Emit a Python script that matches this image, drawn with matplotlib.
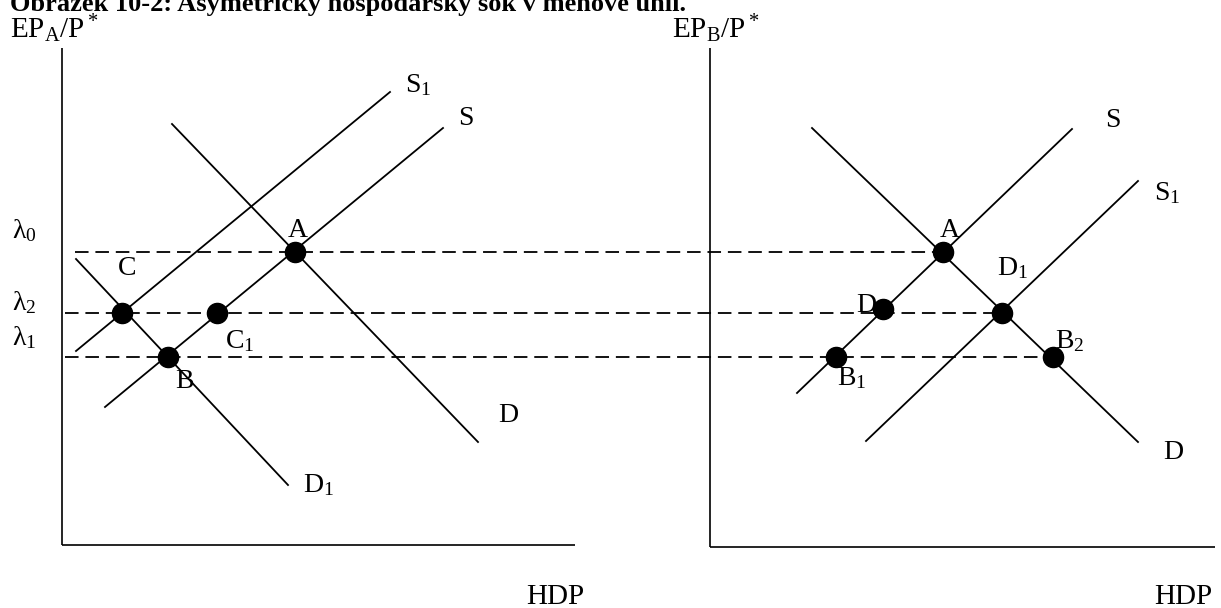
import matplotlib
matplotlib.use("Agg")
import matplotlib.pyplot as plt

plt.rcParams['font.family'] = ['Liberation Serif', 'DejaVu Serif']
plt.rcParams['mathtext.fontset'] = 'custom'
plt.rcParams['mathtext.rm'] = 'Liberation Serif'
plt.rcParams['mathtext.it'] = 'Liberation Serif:italic'

W, H = 1221, 608

# Diagram geometry (pixel space of the original figure)
axes_lines = [  # (x0, y0, x1, y1)
    (62, 48, 62, 545), (62, 545, 575, 545),
    (710, 48, 710, 547), (710, 547, 1215, 547),
]
curve_names = ["S1_A", "S_A", "D_A", "D1_A", "S_B", "D_B", "S1_B"]
curve_x0 = [76, 105, 172, 76, 797, 812, 866]
curve_y0 = [351, 407, 124, 259, 393, 128, 441]
curve_x1 = [390, 443, 478, 288, 1072, 1138, 1138]
curve_y1 = [92, 128, 442, 485, 129, 442, 181]

dash_levels = [252, 313, 357]          # lambda0, lambda2, lambda1
dash_x0 = [75, 65, 65]
dash_x1 = [943, 1002, 1053]

point_x = [295, 122, 217, 168, 943, 883, 1002, 836, 1053]
point_y = [252, 313, 313, 357, 252, 309, 313, 357, 357]

label_text = ["S$_1$", "S", "D", "D$_1$", "A", "C", "C$_1$", "B",
              "S", "S$_1$", "D", "A", "D$_1$", "D", "B$_2$", "B$_1$",
              "λ$_0$", "λ$_2$", "λ$_1$"]
label_x = [405, 458, 498, 303, 288, 118, 225, 175,
           1105, 1154, 1163, 940, 997, 856, 1055, 837,
           12, 12, 12]
label_y = [92, 125, 422, 492, 237, 275, 348, 388,
           127, 200, 459, 237, 275, 312, 348, 385,
           238, 310, 345]

fig = plt.figure(figsize=(W / 100, H / 100), dpi=100)
ax = fig.add_axes([0, 0, 1, 1])
ax.set_xlim(0, W)
ax.set_ylim(H, 0)
ax.axis('off')

for x0, y0, x1, y1 in axes_lines:
    ax.plot([x0, x1], [y0, y1], color='black', lw=1.2, solid_capstyle='butt')

for x0, y0, x1, y1 in zip(curve_x0, curve_y0, curve_x1, curve_y1):
    ax.plot([x0, x1], [y0, y1], color='black', lw=1.3)

for y, x0, x1 in zip(dash_levels, dash_x0, dash_x1):
    ax.plot([x0, x1], [y, y], color='black', lw=1.3, dashes=(7.5, 3.8))

ax.plot(point_x, point_y, 'o', color='black', markersize=14.5, zorder=5)

for t, x, y in zip(label_text, label_x, label_y):
    ax.text(x, y, t, fontsize=20, ha='left', va='baseline', zorder=6)

# Axis titles
ax.text(10, 38, "EP$_\\mathrm{A}$/P$^*$", fontsize=21, ha='left', va='baseline')
ax.text(672, 38, "EP$_\\mathrm{B}$/P$^*$", fontsize=21, ha='left', va='baseline')
ax.text(555, 604, "HDP", fontsize=21, ha='center', va='baseline')
ax.text(1183, 604, "HDP", fontsize=21, ha='center', va='baseline')

# Title (partially cut off at the top, as in the original)
ax.text(10, 11, "Obrázek 10-2: Asymetrický hospodářský šok v měnové unii.",
        fontsize=19, fontweight='bold', ha='left', va='baseline')

fig.savefig("out.png", dpi=100)
